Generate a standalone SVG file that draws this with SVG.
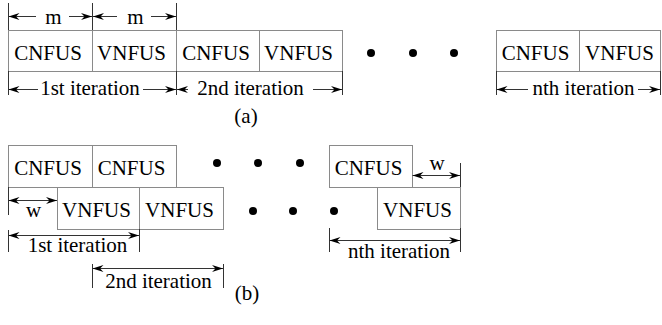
<svg xmlns="http://www.w3.org/2000/svg" width="662" height="325" viewBox="0 0 662 325">
<style>
text{font-family:"Liberation Serif","Times New Roman",serif;font-size:21px;fill:#000;text-anchor:middle}
.box{fill:none;stroke:#8a8a8a;stroke-width:1}
.tick{stroke:#333;stroke-width:1;fill:none}
.arr{stroke:#333;stroke-width:1;fill:none}
.s{marker-start:url(#ah)}
.e{marker-end:url(#ah)}
.dot{fill:#000}
</style>
<defs>
<marker id="ah" viewBox="-12 -4 13 8" refX="0" refY="0" markerWidth="13" markerHeight="8" markerUnits="userSpaceOnUse" orient="auto-start-reverse">
<path d="M0,0 L-11,-3.5 L-7.5,0 L-11,3.5 z" fill="#000"/>
</marker>
</defs>

<!-- (a) -->
<g id="a-iter1">
<rect class="box" x="8.5" y="30.5" width="84" height="41"/>
<rect class="box" x="92.5" y="30.5" width="84" height="41"/>
<text x="48" y="60">CNFUS</text>
<text x="131.5" y="60">VNFUS</text>
</g>
<g id="a-iter2">
<rect class="box" x="176.5" y="30.5" width="83" height="41"/>
<rect class="box" x="259.5" y="30.5" width="83" height="41"/>
<text x="216" y="60">CNFUS</text>
<text x="298.5" y="60">VNFUS</text>
</g>
<g id="a-dots">
<circle class="dot" cx="371" cy="53" r="4"/>
<circle class="dot" cx="413" cy="53" r="4"/>
<circle class="dot" cx="454" cy="53" r="4"/>
</g>
<g id="a-itern">
<rect class="box" x="496.5" y="30.5" width="83" height="41"/>
<rect class="box" x="579.5" y="30.5" width="81" height="41"/>
<text x="535.5" y="60">CNFUS</text>
<text x="619.5" y="60">VNFUS</text>
</g>
<g id="a-labels">
<text x="53.5" y="24">m</text>
<text x="135.5" y="24">m</text>
<text x="90" y="95">1st iteration</text>
<text x="250.5" y="95">2nd iteration</text>
<text x="583.5" y="95">nth iteration</text>
<text x="246" y="123">(a)</text>
</g>

<!-- (b) -->
<g id="b-cn">
<rect class="box" x="8.5" y="145.5" width="84" height="42"/>
<rect class="box" x="92.5" y="145.5" width="84" height="42"/>
<text x="48" y="175">CNFUS</text>
<text x="131.5" y="175">CNFUS</text>
</g>
<g id="b-vn">
<rect class="box" x="57.5" y="187.5" width="82" height="42"/>
<rect class="box" x="139.5" y="187.5" width="84" height="42"/>
<text x="96.5" y="217">VNFUS</text>
<text x="179.5" y="217">VNFUS</text>
</g>
<g id="b-dots">
<circle class="dot" cx="217" cy="163" r="4"/>
<circle class="dot" cx="258" cy="163" r="4"/>
<circle class="dot" cx="300" cy="163" r="4"/>
<circle class="dot" cx="253" cy="211" r="4"/>
<circle class="dot" cx="293" cy="211" r="4"/>
<circle class="dot" cx="334" cy="211" r="4"/>
</g>
<g id="b-itern">
<rect class="box" x="329.5" y="145.5" width="83" height="42"/>
<rect class="box" x="377.5" y="187.5" width="83" height="42"/>
<text x="368.5" y="175">CNFUS</text>
<text x="417.5" y="217">VNFUS</text>
</g>
<g id="b-labels">
<text x="33.5" y="217">w</text>
<text x="437" y="170">w</text>
<text x="77.5" y="252">1st iteration</text>
<text x="158.5" y="288">2nd iteration</text>
<text x="399" y="258">nth iteration</text>
<text x="247" y="300">(b)</text>
</g>

<g id="connectors">
<!-- (a) m dimension -->
<path class="tick" d="M8.5,3 V30 M92.5,3 V30 M176.5,3 V30"/>
<path class="arr s" d="M8.5,16.5 H36"/>
<path class="arr e" d="M69,16.5 H92"/>
<path class="arr s" d="M93,16.5 H117"/>
<path class="arr e" d="M151,16.5 H176"/>
<!-- (a) iterations -->
<path class="tick" d="M8.5,71 V95 M176.5,71 V95 M342.5,71 V95 M496.5,71 V95 M660.5,71 V95"/>
<path class="arr s" d="M8.5,89.5 H38"/>
<path class="arr e" d="M143,89.5 H176"/>
<path class="arr s" d="M177,89.5 H188"/>
<path class="arr e" d="M313,89.5 H342"/>
<path class="arr s" d="M496.5,89.5 H528"/>
<path class="arr e" d="M638,89.5 H660"/>
<!-- (b) w left -->
<path class="tick" d="M8.5,187 V215"/>
<path class="arr s e" d="M8.5,200.5 H57"/>
<!-- (b) 1st iteration -->
<path class="tick" d="M8.5,230 V252 M139.5,229 V252"/>
<path class="arr s e" d="M8.5,235.5 H139"/>
<!-- (b) 2nd iteration -->
<path class="tick" d="M92.5,264 V288 M223.5,264 V288"/>
<path class="arr s e" d="M92.5,268.5 H223"/>
<!-- (b) w right -->
<path class="tick" d="M460.5,163 V187"/>
<path class="arr s e" d="M412.5,175.5 H460"/>
<!-- (b) nth iteration -->
<path class="tick" d="M329.5,228 V252 M460.5,228 V252"/>
<path class="arr s e" d="M329.5,240.5 H460"/>
</g>
</svg>
